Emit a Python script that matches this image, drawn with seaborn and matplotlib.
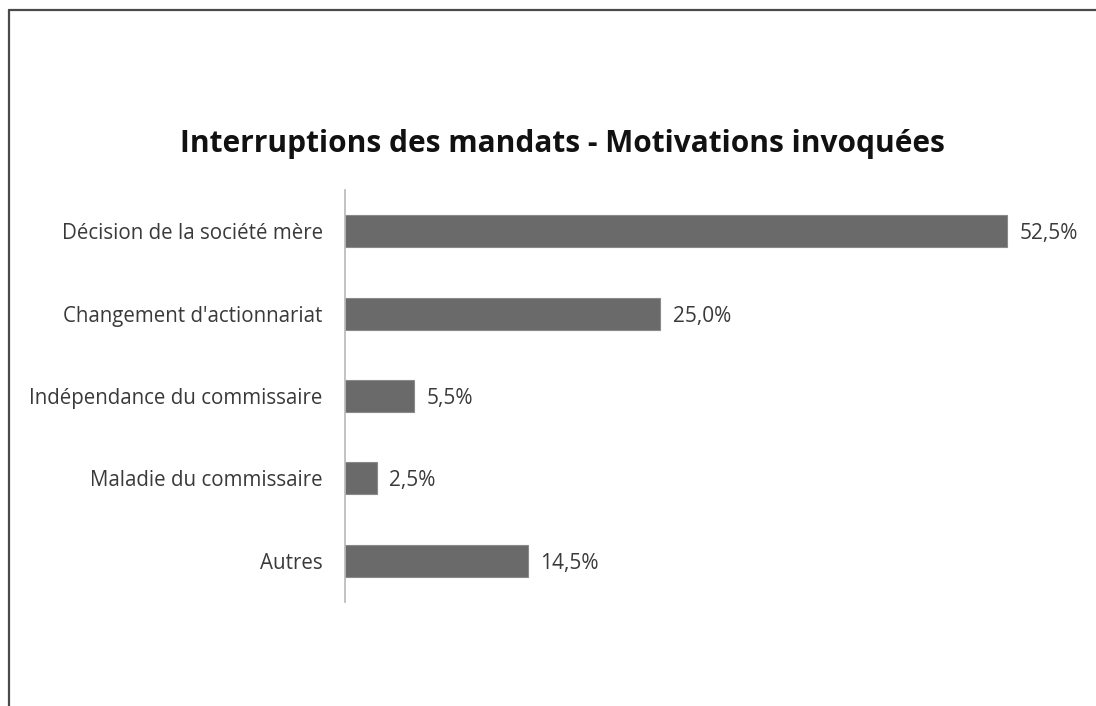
import matplotlib
matplotlib.use("Agg")
import matplotlib.pyplot as plt
from matplotlib.lines import Line2D
import seaborn as sns
import pandas as pd

categories = ["Décision de la société mère", "Changement d'actionnariat",
              "Indépendance du commissaire", "Maladie du commissaire", "Autres"]
values = [52.5, 25.0, 5.5, 2.5, 14.5]
value_labels = ["52,5%", "25,0%", "5,5%", "2,5%", "14,5%"]
title = "Interruptions des mandats - Motivations invoquées"

sns.set_theme(style="white")
plt.rcParams['font.family'] = ['Open Sans', 'DejaVu Sans']

df = pd.DataFrame({"cat": categories, "val": values})

W, H = 1096, 706
fig = plt.figure(figsize=(W / 100, H / 100), dpi=100)
fig.patch.set_facecolor("white")
ax = fig.add_axes([345 / W, 1 - 602 / H, (1040 - 345) / W, (602 - 190) / H])

sns.barplot(data=df, x="val", y="cat", ax=ax, color="#6a6a6a", width=0.39,
            edgecolor="#8a8a8a", linewidth=0.8, saturation=1)

ax.set_xlim(0, 52.5 * (1040 - 345) / (1007 - 345))
ax.set_ylim(4.5, -0.5)
ax.set_xlabel("")
ax.set_ylabel("")
ax.set_xticks([])
for s in ["top", "right", "bottom"]:
    ax.spines[s].set_visible(False)
ax.spines["left"].set_color("#b8b8b8")
ax.spines["left"].set_linewidth(1.2)
ax.tick_params(axis="y", length=0, pad=16, labelsize=14.8, labelcolor="#3a3a3a")

for i, (v, lab) in enumerate(zip(values, value_labels)):
    ax.annotate(lab, (v, i), xytext=(9, 0), textcoords="offset points",
                ha="left", va="center_baseline", fontsize=15, color="#3a3a3a")

fig.text(562 / W, 1 - 144 / H, title, ha="center", va="center",
         fontsize=21.5, fontweight="bold", color="#111111")

# outer frame lines (top and left)
fig.add_artist(Line2D([8.5 / W, 1], [1 - 10 / H, 1 - 10 / H], transform=fig.transFigure,
                      color="#4a4a4a", linewidth=1.6))
fig.add_artist(Line2D([8.5 / W, 8.5 / W], [0, 1 - 10 / H], transform=fig.transFigure,
                      color="#4a4a4a", linewidth=1.6))

fig.savefig("out.png", dpi=100, facecolor="white")
